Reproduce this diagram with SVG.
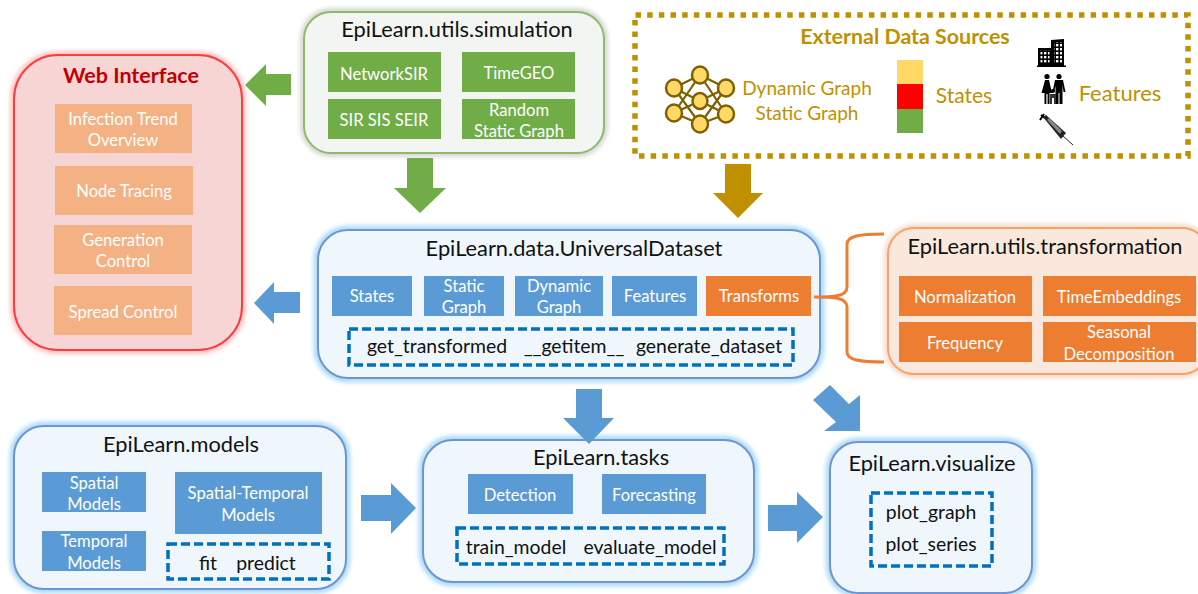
<svg xmlns="http://www.w3.org/2000/svg" width="1198" height="594" viewBox="0 0 1198 594">
<style>
text{font-family:"Lato","Carlito","Open Sans",sans-serif;text-anchor:middle}
.title{font-size:21.8px;fill:#111}
.w{font-size:16.6px;fill:#fff;transform:translateY(1px)}
.m{font-size:19.4px;fill:#111;transform:translateY(1px)}
.gold{font-size:19px;fill:#bf9000}
.dash{fill:none;stroke:#0070c0;stroke-width:3.5;stroke-dasharray:9 4}
.bl{fill:#5b9bd5}.or{fill:#ed7d31}.gr{fill:#70ad47}.sal{fill:#f4b183}
.pb{fill:#eff7fd;stroke:#6f94d2;stroke-width:2}
.gb{fill:none;stroke:#aedcf6;stroke-width:9;filter:url(#blur)}
.n{fill:#ffd966;stroke:#7f6000;stroke-width:2.5}
.e{stroke:#7f6000;stroke-width:2.2;fill:none}
</style>
<defs>
<filter id="blur" x="-10%" y="-10%" width="120%" height="120%"><feGaussianBlur stdDeviation="2"/></filter>
<pattern id="win" width="4" height="4" patternUnits="userSpaceOnUse"><rect width="2.4" height="2.4" fill="#fff"/></pattern>
</defs>

<g id="web-interface">
<rect x="14" y="55" width="228" height="295" rx="44" fill="none" stroke="#ffc4c4" stroke-width="8" filter="url(#blur)"/>
<rect x="14" y="55" width="228" height="295" rx="44" fill="#f7d5d5" stroke="#ff3b3b" stroke-width="2"/>
<text x="131" y="83" font-size="21.5" font-weight="700" fill="#c00000">Web Interface</text>
<rect class="sal" x="55" y="104" width="137" height="49"/>
<rect class="sal" x="55" y="166" width="138" height="49"/>
<rect class="sal" x="54" y="225" width="138" height="49"/>
<rect class="sal" x="54" y="286" width="138" height="49"/>
<text class="w" x="123" y="124">Infection Trend</text><text class="w" x="123" y="145">Overview</text>
<text class="w" x="124" y="196">Node Tracing</text>
<text class="w" x="123" y="245">Generation</text><text class="w" x="123" y="266">Control</text>
<text class="w" x="123" y="317">Spread Control</text>
</g>

<g id="simulation">
<rect x="304" y="12" width="300" height="141" rx="27" fill="none" stroke="#d5d9d5" stroke-width="8" filter="url(#blur)"/>
<rect x="304" y="12" width="300" height="141" rx="27" fill="#f2f5f2" stroke="#8dbb6b" stroke-width="2"/>
<text class="title" x="457" y="37">EpiLearn.utils.simulation</text>
<rect class="gr" x="328" y="52" width="113" height="40"/><rect class="gr" x="462" y="52" width="113" height="40"/>
<rect class="gr" x="328" y="99" width="113" height="40"/><rect class="gr" x="462" y="99" width="113" height="40"/>
<text class="w" x="384" y="79">NetworkSIR</text><text class="w" x="519" y="78">TimeGEO</text>
<text class="w" x="384" y="125">SIR SIS SEIR</text>
<text class="w" x="519" y="115">Random</text><text class="w" x="519" y="136">Static Graph</text>
</g>

<g id="external-data">
<rect x="635" y="15" width="553" height="141" fill="none" stroke="#bf9000" stroke-width="5.5" stroke-dasharray="5.5 6.17" stroke-dashoffset="-0.5"/>
<text x="905" y="44" font-size="21.4" font-weight="700" fill="#bf9000">External Data Sources</text>
<path class="e" d="M674,88 L700,75 L726,88 M674,88 L700,101 L726,88 M674,88 L700,124 M726,88 L700,124 M674,113 L700,75 M726,114 L700,75 M674,113 L700,101 L726,114 M674,113 L700,124 L726,114"/>
<ellipse class="n" cx="700" cy="75" rx="8" ry="8.5"/><ellipse class="n" cx="674" cy="88" rx="8" ry="8.5"/><ellipse class="n" cx="726" cy="88" rx="8" ry="8.5"/>
<ellipse class="n" cx="700" cy="101" rx="7.5" ry="8"/><ellipse class="n" cx="674" cy="113" rx="8" ry="8.5"/><ellipse class="n" cx="726" cy="114" rx="8" ry="8.5"/><ellipse class="n" cx="700" cy="124" rx="8" ry="8.5"/>
<text class="gold" x="807" y="95">Dynamic Graph</text><text class="gold" x="807" y="120">Static Graph</text>
<rect x="897" y="60" width="26" height="24" fill="#ffd966"/><rect x="897" y="84" width="26" height="25" fill="#ff0000"/><rect x="897" y="109" width="26" height="24" fill="#70ad47"/>
<text x="964" y="103" font-size="21" fill="#bf9000">States</text>
<text x="1120" y="101" font-size="22" fill="#bf9000">Features</text>
<g id="icon-buildings">
<path d="M1037,65.5 H1066 V67 H1037Z M1038,48 H1051 V66 H1038Z M1051,40 L1064,39 V66 H1051Z"/>
<rect x="1040.5" y="50.5" width="9" height="13" fill="url(#win)"/>
<rect x="1054" y="42" width="8" height="21" fill="url(#win)"/>
</g>
<g id="icon-family">
<circle cx="1047" cy="76.5" r="2.6"/><circle cx="1059" cy="76.5" r="2.6"/><circle cx="1053" cy="91" r="2"/>
<path d="M1045,80 H1049 L1052,93 H1049.5 V104 H1047.6 V94 H1046.4 V104 H1044.5 V93 H1041.5Z"/>
<path d="M1055,80 H1063 L1065.5,92 H1063.5 L1062.5,85 V104 H1059.5 V93 H1058.5 V104 H1055.5 V86 L1054,92 H1052.5Z"/>
<path d="M1050,94 H1056 V104 H1054 V98 H1052 V104 H1050Z" fill="#333"/>
</g>
<g id="icon-syringe">
<path d="M1045,118 L1041,115 M1040,120 L1044,114" stroke="#000" stroke-width="2" fill="none"/>
<path d="M1043,117 L1046,115 L1066,133 L1061,139Z" fill="#222"/>
<path d="M1047,120 L1049,118 L1062,131 L1060,134Z" fill="#888"/>
<path d="M1063,136 L1073,145" stroke="#222" stroke-width="1"/>
</g>
</g>

<g id="universal-dataset">
<rect class="gb" x="318" y="230" width="502" height="148" rx="30"/>
<rect class="pb" x="318" y="230" width="502" height="148" rx="30"/>
<text class="title" x="574" y="256">EpiLearn.data.UniversalDataset</text>
<rect class="bl" x="332" y="276" width="80" height="40"/><rect class="bl" x="424" y="276" width="80" height="40"/>
<rect class="bl" x="515" y="276" width="88" height="40"/><rect class="bl" x="612" y="276" width="85" height="40"/>
<rect class="or" x="706" y="276" width="105" height="40"/>
<text class="w" x="372" y="301">States</text><text class="w" x="464" y="291">Static</text><text class="w" x="464" y="312">Graph</text>
<text class="w" x="559" y="291">Dynamic</text><text class="w" x="559" y="312">Graph</text>
<text class="w" x="655" y="301">Features</text><text class="w" x="759" y="301">Transforms</text>
<rect class="dash" x="349" y="329" width="444" height="36"/>
<text class="m" x="437" y="352">get_transformed</text><text class="m" x="574" y="352">__getitem__</text><text class="m" x="709" y="352">generate_dataset</text>
</g>

<g id="transformation">
<rect x="888" y="228" width="320" height="146" rx="26" fill="none" stroke="#f5dccb" stroke-width="8" filter="url(#blur)"/>
<rect x="888" y="228" width="320" height="146" rx="26" fill="#fbe8dc" stroke="#f4a46b" stroke-width="2"/>
<text class="title" x="1045" y="254">EpiLearn.utils.transformation</text>
<rect class="or" x="899" y="276" width="133" height="40"/><rect class="or" x="1043" y="276" width="153" height="40"/>
<rect class="or" x="899" y="322" width="133" height="40"/><rect class="or" x="1043" y="322" width="153" height="40"/>
<text class="w" x="965" y="302">Normalization</text><text class="w" x="1119" y="302">TimeEmbeddings</text>
<text class="w" x="965" y="348">Frequency</text><text class="w" x="1119" y="337">Seasonal</text><text class="w" x="1119" y="359">Decomposition</text>
</g>

<g id="models">
<rect class="gb" x="14" y="426" width="332" height="163" rx="30"/>
<rect class="pb" x="14" y="426" width="332" height="163" rx="30"/>
<text class="title" x="181" y="452">EpiLearn.models</text>
<rect class="bl" x="42" y="472" width="104" height="40"/><rect class="bl" x="42" y="531" width="104" height="40"/><rect class="bl" x="175" y="472" width="147" height="62"/>
<text class="w" x="94" y="488">Spatial</text><text class="w" x="94" y="509">Models</text>
<text class="w" x="94" y="546">Temporal</text><text class="w" x="94" y="568">Models</text>
<text class="w" x="248" y="498">Spatial-Temporal</text><text class="w" x="248" y="520">Models</text>
<rect class="dash" x="168" y="544" width="161" height="35"/>
<text class="m" x="208" y="569">fit</text><text class="m" x="266" y="569">predict</text>
</g>

<g id="tasks">
<rect class="gb" x="423" y="440" width="331" height="142" rx="30"/>
<rect class="pb" x="423" y="440" width="331" height="142" rx="30"/>
<text class="title" x="601" y="465">EpiLearn.tasks</text>
<rect class="bl" x="468" y="474" width="105" height="40"/><rect class="bl" x="602" y="474" width="104" height="40"/>
<text class="w" x="520" y="500">Detection</text><text class="w" x="654" y="500">Forecasting</text>
<rect class="dash" x="457" y="528" width="267" height="36"/>
<text class="m" x="516" y="553">train_model</text><text class="m" x="650" y="553">evaluate_model</text>
</g>

<g id="visualize">
<rect class="gb" x="830" y="442" width="202" height="151" rx="28"/>
<rect class="pb" x="830" y="442" width="202" height="151" rx="28"/>
<text class="title" x="932" y="471">EpiLearn.visualize</text>
<rect class="dash" x="871" y="493" width="121" height="73"/>
<text class="m" x="931" y="518">plot_graph</text><text class="m" x="931" y="550">plot_series</text>
</g>

<g id="connectors">
<polygon class="gr" points="245,85 266,64 266,74 291,74 291,95 266,95 266,106"/>
<polygon class="bl" points="254,303 274,282 274,292 300,292 300,313 274,313 274,324"/>
<polygon class="gr" points="407,158 433,158 433,188 446,188 420,213 394,188 407,188"/>
<polygon fill="#bf9000" points="725,164 751,164 751,193 763,193 738,218 713,193 725,193"/>
<polygon class="bl" points="576,389 602,389 602,418 614,418 589,444 563,418 576,418"/>
<polygon class="bl" points="830,385 813,400 836,422 824,431 860,431 860,395 849,404"/>
<polygon class="bl" points="361,495 391,495 391,483 416,508 391,534 391,521 361,521"/>
<polygon class="bl" points="768,505 797,505 797,492 823,517 797,543 797,531 768,531"/>
<path d="M814,297 C832,297 847,297 847,287 V244 C847,236 860,234 884,234 M847,307 C847,297 832,297 814,297 M847,307 V352 C847,360 860,362 884,362" fill="none" stroke="#ed7d31" stroke-width="3"/>
</g>
</svg>
